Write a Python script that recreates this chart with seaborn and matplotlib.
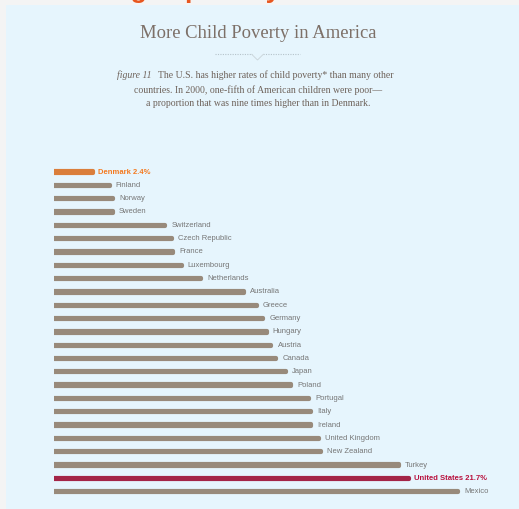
import matplotlib
matplotlib.use("Agg")
import matplotlib.pyplot as plt
import matplotlib.patheffects as pe
from matplotlib.patches import Rectangle
from matplotlib.lines import Line2D
import seaborn as sns
import pandas as pd

countries = ["Denmark", "Finland", "Norway", "Sweden", "Switzerland", "Czech Republic",
             "France", "Luxembourg", "Netherlands", "Australia", "Greece", "Germany",
             "Hungary", "Austria", "Canada", "Japan", "Poland", "Portugal", "Italy",
             "Ireland", "United Kingdom", "New Zealand", "Turkey", "United States", "Mexico"]
poverty = [2.4, 3.4, 3.6, 3.6, 6.8, 7.2, 7.3, 7.8, 9.0, 11.6, 12.4, 12.8,
           13.0, 13.3, 13.6, 14.2, 14.5, 15.6, 15.7, 15.7, 16.2, 16.3, 21.1, 21.7, 24.7]
highlight = {"Denmark": "#F47A20", "United States": "#B8103D"}
label_text = {"Denmark": "Denmark 2.4%", "United States": "United States 21.7%"}

GRAY_BAR = "#9D8A76"
PANEL = "#E6F5FD"

df = pd.DataFrame({"country": countries, "poverty": poverty})
palette = {c: highlight.get(c, GRAY_BAR) for c in countries}

fig = plt.figure(figsize=(5.19, 5.09), dpi=100)
fig.patch.set_facecolor("#F4F4F4")

# orange heading of the page, mostly hidden behind the panel
fig.text(0.133, 1.004, "Living in poverty", color="#E8561E", fontsize=19,
         fontweight="bold", family="Liberation Sans", ha="left", va="baseline", zorder=0)
fig.patches.append(Rectangle((6 / 519, 0), 1, 1 - 5 / 509, transform=fig.transFigure,
                             facecolor=PANEL, edgecolor="none", zorder=1))

fig.text(0.497, 0.935, "More Child Poverty in America", color="#7D7068", fontsize=13.4,
         family="Liberation Serif", ha="center", va="center", zorder=3)

# dotted divider with a small notch
y_line = 1 - 54.3 / 509
fig.lines.append(Line2D([215 / 519, 251.7 / 519], [y_line, y_line], transform=fig.transFigure,
                        color="#B5C3CA", lw=0.8, ls=(0, (1, 1.2)), zorder=3))
fig.lines.append(Line2D([263.3 / 519, 300 / 519], [y_line, y_line], transform=fig.transFigure,
                        color="#B5C3CA", lw=0.8, ls=(0, (1, 1.2)), zorder=3))
fig.lines.append(Line2D([251.7 / 519, 257.5 / 519, 263.3 / 519],
                        [y_line, 1 - 60 / 509, y_line], transform=fig.transFigure,
                        color="#C9D3D8", lw=0.6, zorder=3))

sub_kw = dict(color="#6E625A", fontsize=7, family="Liberation Serif", va="center", zorder=3)
fig.text(117 / 519, 1 - 75 / 509, "figure 11", style="italic", ha="left", **sub_kw)
fig.text(158 / 519, 1 - 75 / 509, "The U.S. has higher rates of child poverty* than many other",
         ha="left", **sub_kw)
fig.text(0.497, 1 - 90 / 509, "countries. In 2000, one-fifth of American children were poor\u2014",
         ha="center", **sub_kw)
fig.text(0.497, 1 - 104 / 509, "a proportion that was nine times higher than in Denmark.",
         ha="center", **sub_kw)

# bar area
ax = fig.add_axes([54 / 519, 1 - 498.35 / 509, 460 / 519, 333 / 509])
ax.set_zorder(2)
ax.patch.set_alpha(0)
sns.barplot(data=df, x="poverty", y="country", hue="country", palette=palette,
            orient="h", width=0.1, legend=False, ax=ax)

for bar in ax.patches:
    fc = bar.get_facecolor()
    bar.set_edgecolor(fc)
    bar.set_linewidth(3.0)
    bar.set_joinstyle("round")
    bar.set_path_effects([pe.SimplePatchShadow(offset=(0.2, -1.0), shadow_rgbFace="#B4BFC6",
                                               alpha=0.5), pe.Normal()])

for i, (c, v) in enumerate(zip(countries, poverty)):
    if c in highlight:
        ax.text(v + 0.3, i, label_text[c], color=highlight[c], fontsize=5.5, fontweight="bold",
                family="Liberation Sans", va="center", ha="left")
    else:
        ax.text(v + 0.38, i, c, color="#767676", fontsize=5.5,
                family="Liberation Sans", va="center", ha="left")

ax.set_xlim(0, 460 / 16.35)
ax.set_ylim(24.5, -0.5)
ax.set_axis_off()

fig.savefig("out.png", dpi=100, facecolor=fig.get_facecolor())
